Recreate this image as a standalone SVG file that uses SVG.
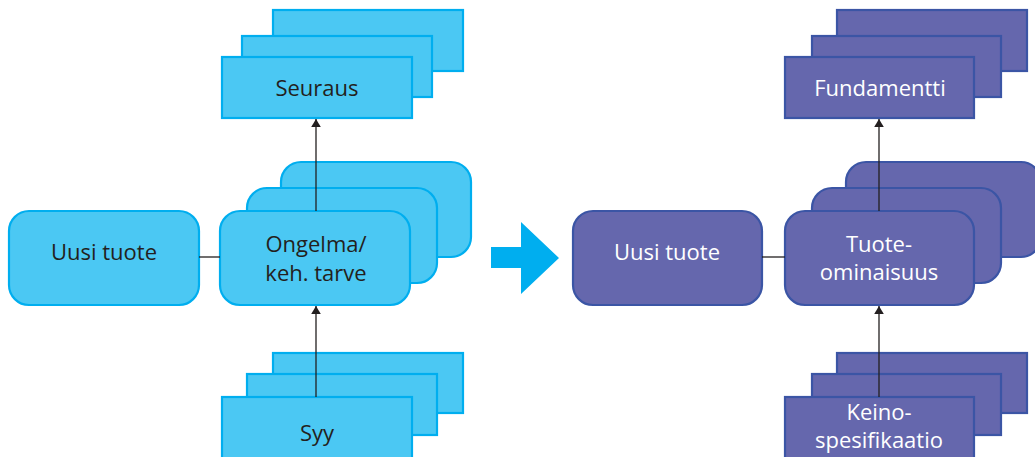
<svg xmlns="http://www.w3.org/2000/svg" width="1035" height="457" viewBox="0 0 1035 457">
  <defs>
    <style>
      .blue { fill: #4BC8F3; stroke: #00AEEF; stroke-width: 2.2; }
      .violet { fill: #6567AD; stroke: #3B55A5; stroke-width: 2.2; }
      .lbl { font-family: "Open Sans", "Noto Sans", sans-serif; font-size: 22px; text-anchor: middle; }
      .dark { fill: #231F20; }
      .light { fill: #FFFFFF; }
      .wire { stroke: #231F20; stroke-width: 1.3; fill: none; }
    </style>
    <marker id="tip" viewBox="0 0 10 12" refX="10" refY="6" markerWidth="8" markerHeight="10" markerUnits="userSpaceOnUse" orient="auto">
      <path d="M0,0 L10,6 L0,12 Z" fill="#231F20"/>
    </marker>
  </defs>

  <rect width="1035" height="457" fill="#FFFFFF"/>

  <!-- left: problem view -->
  <g id="uusi-tuote-1">
    <rect class="blue" x="9" y="211" width="190" height="94" rx="20"/>
    <text class="lbl dark" x="104" y="260">Uusi tuote</text>
  </g>

  <g id="seuraus">
    <rect class="blue" x="273" y="10" width="190" height="61"/>
    <rect class="blue" x="242" y="36" width="190" height="61"/>
    <rect class="blue" x="222" y="57" width="190" height="61"/>
    <text class="lbl dark" x="317" y="96">Seuraus</text>
  </g>

  <g id="ongelma">
    <rect class="blue" x="281" y="162" width="190" height="95" rx="20"/>
    <rect class="blue" x="247" y="188" width="190" height="95" rx="20"/>
    <rect class="blue" x="220" y="211" width="190" height="94" rx="20"/>
    <text class="lbl dark" x="316" y="252">Ongelma/</text>
    <text class="lbl dark" x="316" y="281">keh. tarve</text>
  </g>

  <g id="syy">
    <rect class="blue" x="273" y="353" width="190" height="60"/>
    <rect class="blue" x="247" y="374" width="190" height="61"/>
    <rect class="blue" x="222" y="397" width="190" height="70"/>
    <text class="lbl dark" x="317" y="441">Syy</text>
  </g>

  <!-- transition arrow -->
  <g id="siirtyma">
    <path d="M491,247 L521,247 L521,222 L559,258 L521,294 L521,268 L491,268 Z" fill="#00AEEF"/>
  </g>

  <!-- right: solution view -->
  <g id="uusi-tuote-2">
    <rect class="violet" x="573" y="211" width="189" height="94" rx="20"/>
    <text class="lbl light" x="667" y="260">Uusi tuote</text>
  </g>

  <g id="fundamentti">
    <rect class="violet" x="837" y="10" width="190" height="61"/>
    <rect class="violet" x="812" y="36" width="189" height="61"/>
    <rect class="violet" x="785" y="57" width="189" height="61"/>
    <text class="lbl light" x="880" y="96">Fundamentti</text>
  </g>

  <g id="tuoteominaisuus">
    <rect class="violet" x="846" y="162" width="195" height="95" rx="20"/>
    <rect class="violet" x="812" y="188" width="189" height="95" rx="20"/>
    <rect class="violet" x="785" y="211" width="189" height="94" rx="20"/>
    <text class="lbl light" x="879" y="252">Tuote-</text>
    <text class="lbl light" x="879" y="280">ominaisuus</text>
  </g>

  <g id="keinospesifikaatio">
    <rect class="violet" x="837" y="353" width="190" height="60"/>
    <rect class="violet" x="812" y="374" width="189" height="61"/>
    <rect class="violet" x="785" y="397" width="189" height="70"/>
    <text class="lbl light" x="879" y="420">Keino-</text>
    <text class="lbl light" x="879" y="448">spesifikaatio</text>
  </g>

  <!-- connectors -->
  <g id="connectors">
    <line class="wire" x1="199" y1="257" x2="220" y2="257"/>
    <line class="wire" x1="316" y1="211" x2="316" y2="119" marker-end="url(#tip)"/>
    <line class="wire" x1="316" y1="397" x2="316" y2="306" marker-end="url(#tip)"/>
    <line class="wire" x1="762" y1="257" x2="785" y2="257"/>
    <line class="wire" x1="879" y1="211" x2="879" y2="119" marker-end="url(#tip)"/>
    <line class="wire" x1="879" y1="397" x2="879" y2="306" marker-end="url(#tip)"/>
  </g>
</svg>
